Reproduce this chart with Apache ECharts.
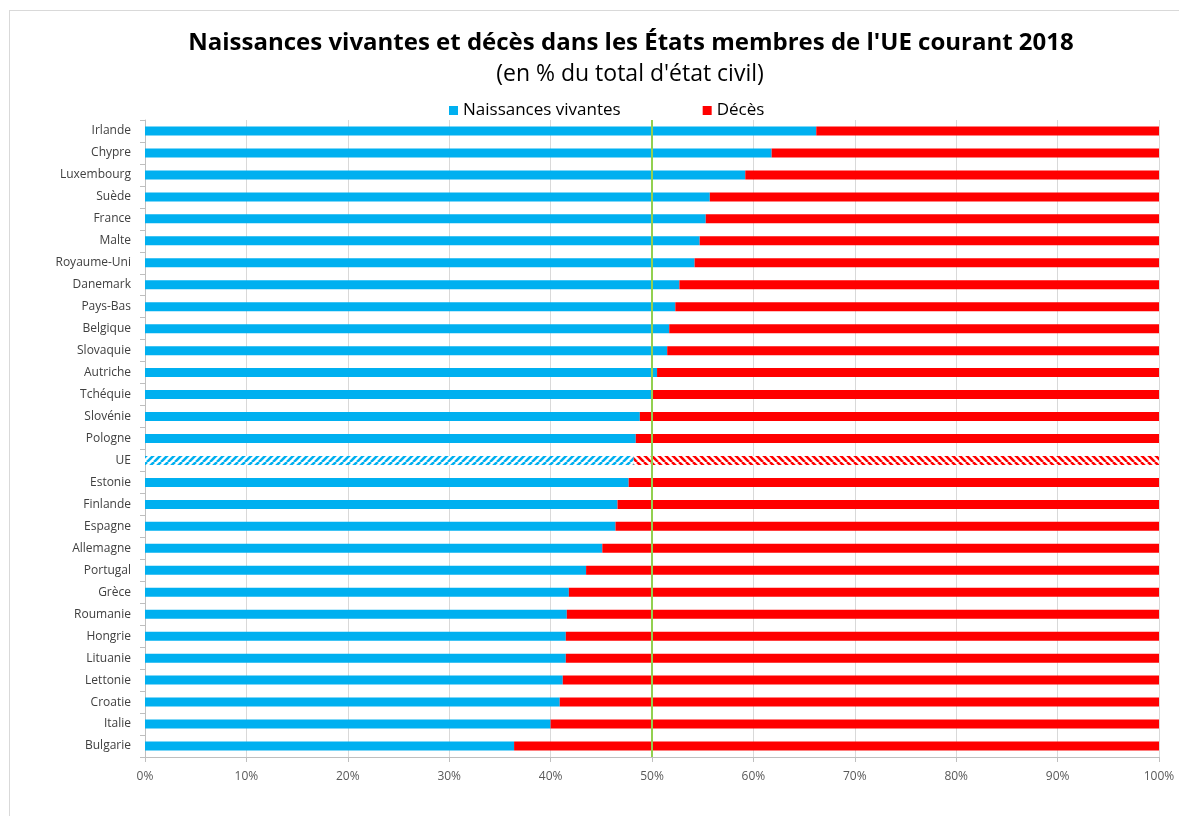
<!DOCTYPE html>
<html>
<head>
<meta charset="utf-8">
<script src="https://cdn.jsdelivr.net/npm/echarts@6/dist/echarts.min.js"></script>
<style>
  html, body { margin: 0; padding: 0; background: #fff; }
  #frame { position: absolute; left: 9px; top: 10px; width: 1200px; height: 900px;
           border-left: 1px solid #d9d9d9; border-top: 1px solid #d9d9d9; }
  #main { position: absolute; left: 0; top: 0; width: 1179px; height: 816px; }
</style>
</head>
<body>
<div id="frame"></div>
<div id="main"></div>
<script>
// pays (de haut en bas)
var countries = ['Irlande', 'Chypre', 'Luxembourg', 'Suède', 'France', 'Malte', 'Royaume-Uni',
  'Danemark', 'Pays-Bas', 'Belgique', 'Slovaquie', 'Autriche', 'Tchéquie', 'Slovénie', 'Pologne',
  'UE', 'Estonie', 'Finlande', 'Espagne', 'Allemagne', 'Portugal', 'Grèce', 'Roumanie', 'Hongrie',
  'Lituanie', 'Lettonie', 'Croatie', 'Italie', 'Bulgarie'];
// naissances vivantes, en %
var births = [66.2, 61.8, 59.2, 55.7, 55.3, 54.7, 54.2, 52.7, 52.3, 51.7, 51.5, 50.5, 50.1, 48.8, 48.4,
  48.2, 47.7, 46.6, 46.4, 45.1, 43.5, 41.8, 41.6, 41.5, 41.5, 41.2, 40.9, 40.0, 36.4];
// décès, en %
var deaths = [33.8, 38.2, 40.8, 44.3, 44.7, 45.3, 45.8, 47.3, 47.7, 48.3, 48.5, 49.5, 49.9, 51.2, 51.6,
  51.8, 52.3, 53.4, 53.6, 54.9, 56.5, 58.2, 58.4, 58.5, 58.5, 58.8, 59.1, 60.0, 63.6];
var xTicks = [0, 100, 10]; // min, max, interval

var BLUE = '#00b0f0';
var RED = '#ff0000';

// motif hachuré pour la barre UE
function hatch(color, forward) {
  var s = 7;
  var c = document.createElement('canvas');
  c.width = s; c.height = s;
  var ctx = c.getContext('2d');
  ctx.fillStyle = '#ffffff';
  ctx.fillRect(0, 0, s, s);
  ctx.strokeStyle = color;
  ctx.lineWidth = 2.6;
  for (var o = -s; o <= s; o += s) {
    ctx.beginPath();
    if (forward) { ctx.moveTo(o, s); ctx.lineTo(o + s, 0); }
    else { ctx.moveTo(o, 0); ctx.lineTo(o + s, s); }
    ctx.stroke();
  }
  return { image: c, repeat: 'repeat' };
}

function buildData(values, pattern) {
  var out = [];
  for (var i = 0; i < values.length; i++) {
    if (countries[i] == 'UE') {
      out.push({ value: values[i], itemStyle: { color: pattern } });
    } else {
      out.push(values[i]);
    }
  }
  return out;
}

var myChart = echarts.init(document.getElementById('main'));
var FONT = 'Open Sans';

var option = {
  animation: false,
  title: [
    {
      text: "Naissances vivantes et décès dans les États membres de l'UE courant 2018",
      left: 626, top: 26, textAlign: 'center',
      textStyle: { fontFamily: FONT, fontSize: 24, fontWeight: 'bold', color: '#000' }
    },
    {
      text: "(en % du total d'état civil)",
      left: 625, top: 58, textAlign: 'center',
      textStyle: { fontFamily: FONT, fontSize: 23, fontWeight: 'normal', color: '#000' }
    }
  ],
  legend: {
    data: ['Naissances vivantes', 'Décès'],
    left: 444, top: 97,
    icon: 'rect', itemWidth: 9, itemHeight: 9, itemGap: 82,
    textStyle: { fontFamily: FONT, fontSize: 17, color: '#000' }
  },
  grid: { left: 145, right: 20, top: 120, bottom: 59, containLabel: false },
  xAxis: {
    type: 'value', min: xTicks[0], max: xTicks[1], interval: xTicks[2],
    axisLine: { show: true, lineStyle: { color: '#bfbfbf' } },
    axisTick: { show: true, length: 5, lineStyle: { color: '#bfbfbf' } },
    axisLabel: { formatter: '{value}%', fontFamily: FONT, fontSize: 12, color: '#595959', margin: 14 },
    splitLine: { show: true, lineStyle: { color: '#d9d9d9' } }
  },
  yAxis: {
    type: 'category', inverse: true, data: countries,
    axisLine: { show: true, lineStyle: { color: '#bfbfbf' } },
    axisTick: { show: true, length: 5, lineStyle: { color: '#bfbfbf' } },
    axisLabel: { fontFamily: FONT, fontSize: 12, color: '#404040', margin: 14 }
  },
  series: [
    {
      name: 'Naissances vivantes', type: 'bar', stack: 'total', barWidth: 9,
      itemStyle: { color: BLUE },
      data: buildData(births, hatch(BLUE, true))
    },
    {
      name: 'Décès', type: 'bar', stack: 'total', barWidth: 9,
      itemStyle: { color: RED },
      data: buildData(deaths, hatch(RED, false)),
      markLine: {
        silent: true, symbol: 'none', label: { show: false },
        lineStyle: { color: '#92d050', width: 2, type: 'solid' },
        data: [{ xAxis: 50 }]
      }
    }
  ]
};
myChart.setOption(option);
</script>
</body>
</html>
